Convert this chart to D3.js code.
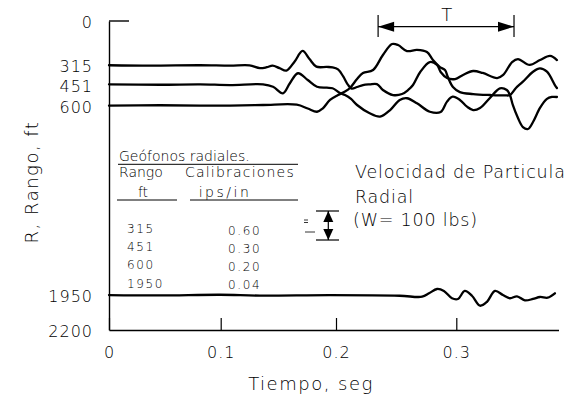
<!DOCTYPE html>
<html>
<head>
<meta charset="utf-8">
<script src="https://cdn.jsdelivr.net/npm/d3@7"></script>
<style>
body { margin: 0; background: #fff; }
svg text { font-family: "DejaVu Sans", sans-serif; font-weight: 200; fill: #000; }
</style>
</head>
<body>
<svg id="chart" width="574" height="402"></svg>
<script>
// ticks
const ticksX = [0, 0.1, 0.2, 0.3];
const etiquetasX = ["0", "0.1", "0.2", "0.3"];
const ticksY = [0, 315, 451, 600, 1950, 2200];

// trazas (tiempo en seg, rango en ft)
const t315 = [0, 0.037, 0.0815, 0.108, 0.125, 0.134, 0.140, 0.145, 0.151, 0.157, 0.164, 0.171, 0.177, 0.183, 0.192, 0.197, 0.2017, 0.206, 0.210, 0.213, 0.2175, 0.2224, 0.228, 0.234, 0.239, 0.2474, 0.2549, 0.260, 0.264, 0.270, 0.278, 0.284, 0.287, 0.2923, 0.299, 0.3056, 0.314, 0.322, 0.334, 0.339, 0.3464, 0.3513, 0.361, 0.3696, 0.378, 0.3837];
const r315 = [315, 318, 315, 318, 316, 336, 329, 318, 336, 353, 290, 213, 271, 325, 327, 330, 345, 395, 455, 481, 470, 456, 451, 449, 491, 527, 520, 491, 456, 363, 292, 313, 363, 406, 413, 384, 356, 370, 406, 384, 292, 271, 313, 278, 249, 278];

const t451 = [0, 0.0457, 0.0815, 0.108, 0.1367, 0.1454, 0.154, 0.160, 0.167, 0.1755, 0.1835, 0.192, 0.197, 0.2033, 0.2075, 0.2125, 0.2175, 0.228, 0.2366, 0.245, 0.253, 0.259, 0.2673, 0.278, 0.287, 0.2923, 0.297, 0.303, 0.3089, 0.314, 0.3197, 0.328, 0.3363, 0.342, 0.3446, 0.347, 0.3513, 0.3554, 0.3596, 0.3638, 0.3696, 0.3754, 0.3795, 0.3837];
const r451 = [451, 454, 451, 456, 451, 468, 515, 443, 372, 420, 468, 475, 479, 513, 527, 555, 598, 657, 681, 634, 562, 550, 586, 646, 648, 574, 539, 562, 610, 634, 620, 548, 479, 491, 527, 598, 691, 755, 769, 719, 619, 555, 541, 541];

const t600 = [0, 0.0457, 0.0815, 0.108, 0.1367, 0.166, 0.1755, 0.1835, 0.1886, 0.1948, 0.2017, 0.2075, 0.2116, 0.2175, 0.2224, 0.2308, 0.239, 0.2466, 0.2516, 0.259, 0.2673, 0.2756, 0.2806, 0.2864, 0.2906, 0.293, 0.2972, 0.303, 0.314, 0.328, 0.3405, 0.3446, 0.3496, 0.3554, 0.3638, 0.3696, 0.3754, 0.382, 0.3837];
const r600 = [603, 600, 602, 602, 598, 596, 623, 646, 622, 562, 527, 502, 477, 413, 370, 349, 242, 164, 171, 214, 206, 221, 278, 328, 349, 399, 470, 506, 520, 527, 530, 527, 477, 432, 361, 337, 361, 456, 477];

const t1950 = [0, 0.0457, 0.0994, 0.134, 0.1948, 0.253, 0.2716, 0.2773, 0.284, 0.2897, 0.2964, 0.3014, 0.307, 0.313, 0.3197, 0.3255, 0.3322, 0.3388, 0.3446, 0.3505, 0.357, 0.3638, 0.3696, 0.376, 0.382];
const r1950 = [1951, 1954, 1949, 1955, 1952, 1956, 1963, 1939, 1908, 1922, 1974, 1979, 1922, 1956, 2027, 1999, 1922, 1951, 1974, 1960, 1989, 1979, 1965, 1970, 1939];

// tabla de geofonos
const rangos = ["315", "451", "600", "1950"];
const calibraciones = ["0.60", "0.30", "0.20", "0.04"];

// marca T (seg)
const marcaT = [0.235, 0.348];

const svg = d3.select("#chart");

const x = d3.scaleLinear()
    .domain([0, 0.1, 0.2, 0.3, 0.385])
    .range([109, 220.7, 336, 456.3, 558.5]);
const y = d3.scaleLinear()
    .domain([0, 2200])
    .range([21, 330]);

// eje x
svg.append("g")
    .attr("transform", "translate(0," + y(2200) + ")")
    .call(d3.axisBottom(x)
        .tickValues(ticksX)
        .tickFormat((d, i) => etiquetasX[i])
        .tickSize(-12)
        .tickSizeOuter(0)
        .tickPadding(17))
    .call(g => {
        g.select(".domain").attr("stroke", "#000").attr("stroke-width", 1.4);
        g.selectAll(".tick line").attr("stroke", "#000").attr("stroke-width", 1.2);
        g.selectAll(".tick text").attr("font-size", 16).attr("letter-spacing", 1);
    });

// eje y
svg.append("g")
    .attr("transform", "translate(" + x(0) + ",0)")
    .call(d3.axisLeft(y)
        .tickValues(ticksY)
        .tickFormat(d3.format("d"))
        .tickSize(0)
        .tickSizeOuter(0)
        .tickPadding(16))
    .call(g => {
        g.select(".domain").attr("stroke", "#000").attr("stroke-width", 1.4);
        g.selectAll(".tick text").attr("font-size", 16).attr("dy", "0.42em").attr("letter-spacing", 1);
    });

// raya en 0
svg.append("line")
    .attr("x1", x(0)).attr("x2", x(0) + 20)
    .attr("y1", y(0)).attr("y2", y(0))
    .attr("stroke", "#000").attr("stroke-width", 1.4);

// titulos
svg.append("text")
    .attr("x", 311).attr("y", 390)
    .attr("text-anchor", "middle")
    .attr("font-size", 18).attr("letter-spacing", 1.5)
    .text("Tiempo, seg");

svg.append("text")
    .attr("transform", "translate(38,182) rotate(-90)")
    .attr("text-anchor", "middle")
    .attr("font-size", 18).attr("letter-spacing", 1.5)
    .text("R, Rango, ft");

// trazas
const linea = d3.line()
    .x(d => x(d[0]))
    .y(d => y(d[1]))
    .curve(d3.curveCatmullRom.alpha(0.5));

const trazas = [[t315, r315], [t451, r451], [t600, r600], [t1950, r1950]];
svg.append("g")
    .selectAll("path")
    .data(trazas)
    .enter().append("path")
    .attr("d", d => linea(d[0].map((t, i) => [t, d[1][i]])))
    .attr("fill", "none")
    .attr("stroke", "#000")
    .attr("stroke-width", 2.3)
    .attr("stroke-linejoin", "round")
    .attr("stroke-linecap", "round");

// marca T
const yT = 26.7;
const gT = svg.append("g");
[marcaT[0], marcaT[1]].forEach(t => {
    gT.append("line")
        .attr("x1", x(t)).attr("x2", x(t))
        .attr("y1", 15).attr("y2", 37)
        .attr("stroke", "#000").attr("stroke-width", 1.2);
});
gT.append("line")
    .attr("x1", x(marcaT[0])).attr("x2", x(marcaT[1]))
    .attr("y1", yT).attr("y2", yT)
    .attr("stroke", "#000").attr("stroke-width", 1.2);
gT.append("path")
    .attr("d", d3.line()([[x(marcaT[0]), yT], [x(marcaT[0]) + 16, yT - 5], [x(marcaT[0]) + 16, yT + 5]]) + "Z")
    .attr("fill", "#000");
gT.append("path")
    .attr("d", d3.line()([[x(marcaT[1]), yT], [x(marcaT[1]) - 16, yT - 5], [x(marcaT[1]) - 16, yT + 5]]) + "Z")
    .attr("fill", "#000");
gT.append("text")
    .attr("x", (x(marcaT[0]) + x(marcaT[1])) / 2 + 0.7).attr("y", 20.5)
    .attr("text-anchor", "middle")
    .attr("font-size", 18)
    .text("T");

// tabla
const tabla = svg.append("g");
tabla.append("text").attr("x", 119).attr("y", 161).attr("font-size", 14).text("Geófonos radiales.");
tabla.append("text").attr("x", 119).attr("y", 177).attr("font-size", 14).text("Rango");
tabla.append("text").attr("x", 185).attr("y", 177).attr("font-size", 14).attr("letter-spacing", 1.2).text("Calibraciones");
tabla.append("text").attr("x", 143).attr("y", 197).attr("font-size", 14).attr("text-anchor", "middle").text("ft");
tabla.append("text").attr("x", 225).attr("y", 197).attr("font-size", 14).attr("text-anchor", "middle").attr("letter-spacing", 2.5).text("ips/in");

[[118, 298, 164.3], [117, 177, 200], [190, 298, 200]].forEach(d => {
    tabla.append("line")
        .attr("x1", d[0]).attr("x2", d[1])
        .attr("y1", d[2]).attr("y2", d[2])
        .attr("stroke", "#000").attr("stroke-width", 1);
});

tabla.selectAll("text.rango")
    .data(rangos)
    .enter().append("text")
    .attr("class", "rango")
    .attr("x", 127)
    .attr("y", (d, i) => 233 + i * 18.2)
    .attr("font-size", 12).attr("letter-spacing", 1.6)
    .text(d => d);

tabla.selectAll("text.calib")
    .data(calibraciones)
    .enter().append("text")
    .attr("class", "calib")
    .attr("x", 228)
    .attr("y", (d, i) => 234.5 + i * 18.2)
    .attr("font-size", 12).attr("letter-spacing", 1.6)
    .text(d => d);

// escala
const esc = svg.append("g");
[211, 240].forEach(yy => {
    esc.append("line")
        .attr("x1", 316).attr("x2", 339)
        .attr("y1", yy).attr("y2", yy)
        .attr("stroke", "#000").attr("stroke-width", 1.2);
});
esc.append("line")
    .attr("x1", 328.3).attr("x2", 328.3)
    .attr("y1", 211).attr("y2", 240)
    .attr("stroke", "#000").attr("stroke-width", 1.2);
esc.append("path").attr("d", "M328.3,211L333.3,222L323.3,222Z").attr("fill", "#000");
esc.append("path").attr("d", "M328.3,240L333.3,229L323.3,229Z").attr("fill", "#000");
[[304, 308, 220], [304, 308, 222.5], [305, 315, 232]].forEach(d => {
    esc.append("line")
        .attr("x1", d[0]).attr("x2", d[1])
        .attr("y1", d[2]).attr("y2", d[2])
        .attr("stroke", "#000").attr("stroke-width", 0.8);
});

// leyenda de texto
const nota = svg.append("g");
nota.append("text").attr("x", 355).attr("y", 178).attr("font-size", 17.5).attr("letter-spacing", 0.8).text("Velocidad de Particula");
nota.append("text").attr("x", 355).attr("y", 203).attr("font-size", 17.5).attr("letter-spacing", 0.8).text("Radial");
nota.append("text").attr("x", 353).attr("y", 226).attr("font-size", 17.5).attr("letter-spacing", 0.8).text("(W= 100 lbs)");
</script>
</body>
</html>
